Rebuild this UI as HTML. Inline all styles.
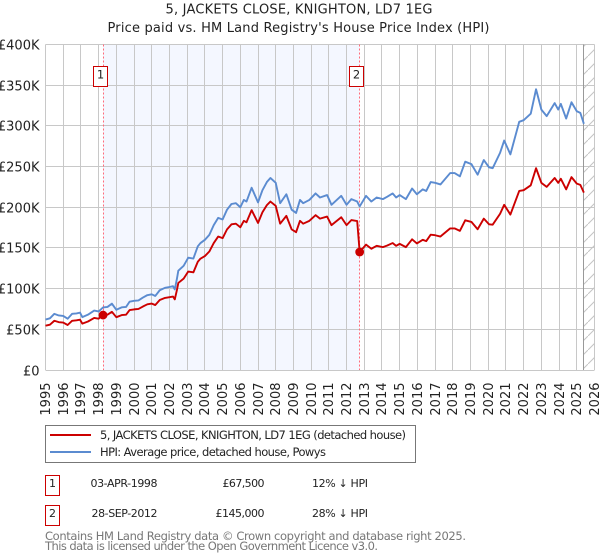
<!DOCTYPE html>
<html lang="en">
<head>
<meta charset="utf-8">
<title>5, JACKETS CLOSE, KNIGHTON, LD7 1EG</title>
<style>
html,body{margin:0;padding:0;background:#fff;width:600px;height:560px;overflow:hidden}
svg{display:block}
text{font-family:"DejaVu Sans","Liberation Sans",sans-serif;fill:#222}
</style>
</head>
<body>
<svg id="chart" width="600" height="560" viewBox="0 0 600 560" xmlns="http://www.w3.org/2000/svg">
<defs>
<pattern id="hatch" patternUnits="userSpaceOnUse" width="14" height="14">
<path d="M0 14L14 0" stroke="#c4c4c4" stroke-width="1" fill="none"/>
</pattern>
</defs>
<rect x="0" y="0" width="600" height="560" fill="#ffffff"/>
<text x="299" y="13.5" font-size="13" text-anchor="middle" textLength="267">5, JACKETS CLOSE, KNIGHTON, LD7 1EG</text>
<text x="298.5" y="32" font-size="13" text-anchor="middle" textLength="382">Price paid vs. HM Land Registry's House Price Index (HPI)</text>
<g id="shade-layer"></g>
<g id="grid-layer"></g>
<g id="hatch-layer"></g>
<g id="vline-layer"></g>
<g id="series-layer"></g>
<g id="marker-layer"></g>
<g id="tick-layer"></g>

<g>
<rect x="45.5" y="425.5" width="370" height="37" fill="#fff" stroke="#777" stroke-width="1"/>
<line x1="50" x2="91" y1="435" y2="435" stroke="#cc0000" stroke-width="2"/>
<text x="100" y="439" font-size="11.5" textLength="306">5, JACKETS CLOSE, KNIGHTON, LD7 1EG (detached house)</text>
<line x1="50" x2="91" y1="452" y2="452" stroke="#5b8bd0" stroke-width="2"/>
<text x="100" y="456" font-size="11.5" textLength="226">HPI: Average price, detached house, Powys</text>
</g>

<g>
<rect x="45.5" y="475.5" width="14" height="20" fill="#fff" stroke="#cc0000" stroke-width="1"/>
<text x="52.5" y="487" font-size="11" text-anchor="middle">1</text>
<text x="157.5" y="487" font-size="11" text-anchor="end" textLength="67">03-APR-1998</text>
<text x="264.5" y="487" font-size="11" text-anchor="end" textLength="42">£67,500</text>
<text x="312" y="487" font-size="11" textLength="56">12% ↓ HPI</text>
<rect x="45.5" y="505.5" width="14" height="20" fill="#fff" stroke="#cc0000" stroke-width="1"/>
<text x="52.5" y="517" font-size="11" text-anchor="middle">2</text>
<text x="157.5" y="517" font-size="11" text-anchor="end" textLength="66">28-SEP-2012</text>
<text x="264.5" y="517" font-size="11" text-anchor="end" textLength="49">£145,000</text>
<text x="312" y="517" font-size="11" textLength="56">28% ↓ HPI</text>
</g>

<text x="45" y="540" font-size="11.5" style="fill:#777" textLength="421">Contains HM Land Registry data © Crown copyright and database right 2025.</text>
<text x="45" y="550" font-size="11.5" style="fill:#777" textLength="333">This data is licensed under the Open Government Licence v3.0.</text>
</svg>
<script>
const yearTicks = [1995,1996,1997,1998,1999,2000,2001,2002,2003,2004,2005,2006,2007,2008,2009,2010,2011,2012,2013,2014,2015,2016,2017,2018,2019,2020,2021,2022,2023,2024,2025,2026];
const valueTicks = [0,50,100,150,200,250,300,350,400];
const valueTickLabels = ["£0","£50K","£100K","£150K","£200K","£250K","£300K","£350K","£400K"];

const dates = [1995,1995.25,1995.5,1995.75,1996,1996.25,1996.5,1996.75,1996.95,1997.08,1997.4,1997.75,1998,1998.25,1998.5,1998.75,1999,1999.3,1999.55,1999.75,2000,2000.25,2000.5,2000.75,2001,2001.2,2001.45,2001.75,2002,2002.2,2002.3,2002.42,2002.5,2002.8,2003.06,2003.35,2003.6,2003.75,2004,2004.25,2004.5,2004.75,2005,2005.25,2005.5,2005.75,2006,2006.2,2006.35,2006.64,2007,2007.25,2007.5,2007.7,2008,2008.25,2008.6,2008.9,2009.15,2009.37,2009.55,2009.9,2010.25,2010.5,2010.9,2011.15,2011.7,2012,2012.27,2012.6,2012.74,2013.1,2013.4,2013.7,2014.05,2014.3,2014.6,2014.8,2015,2015.35,2015.7,2015.97,2016.3,2016.5,2016.75,2017,2017.3,2017.85,2018.1,2018.4,2018.7,2019.05,2019.4,2019.75,2020.05,2020.25,2020.67,2020.9,2021.25,2021.75,2022,2022.4,2022.7,2023,2023.15,2023.3,2023.75,2023.95,2024.1,2024.4,2024.7,2025,2025.2,2025.4];

const hpiValues = [62,63.5,69,67,66.5,63,69,69.5,70.5,65,68,73,72,76.9,77.5,81.5,74,77,77.5,84,85,85.5,89,92,93,91,98,101,102,103,99,112,122,128,138,137,152,156,160,166,178,187,185,197,204,205,200,209,207,224,206,221,231,236,230,205,216,197,193,209,205,209,217,212,215,203,214,203,210,207,201,214,207,212,210,213,217,212,215,210,223,216,222,220,231,230,228,242,242,238,256,253,240,258,249,248,267,282,265,305,307,315,345,320,316,312,328,320,327,309,329,318,316,302.5];

const pricePaidValues = [54.4,55.7,60.5,58.8,58.3,55.3,60.5,61,61.8,57,59.6,64,63.1,67.5,68,71.5,64.9,67.5,68,73.7,74.5,75,78,80.7,81.6,79.8,86,88.6,89.5,90.3,86.8,98.2,107,112.3,121,120,133,136.8,140,145.6,156,164,162,172.8,179,179.8,175.4,183.3,181.5,196.4,180.7,193.8,202.6,207,201.7,179.8,189.4,172.8,169.3,183.3,179.8,183.3,190.3,186,188.6,178,187.7,178,184.2,183,145,154,149,152.6,151,153,156,152.6,155,151,160.6,155.5,160,158.4,166.3,165.6,164,174,174,171,184,182,173,186,179,178.6,192,203,191,220,221,227,248,230,227.5,225,236,230,235,222,237,229,227.5,218];

const saleDates = [1998.25,2012.74];
const saleValues = [67.5,145];
const saleLabels = ["1","2"];
const hpiEndDate = 2025.4;

const NS = "http://www.w3.org/2000/svg";
const LEFT = 45.5, RIGHT = 594.5, TOP = 44.5, BOTTOM = 370;
function xScale(year){return LEFT + (year-1995)*(RIGHT-LEFT)/31;}
function yScale(v){return BOTTOM - v*(BOTTOM-TOP)/400;}
function snap(p){return Math.round(p-0.5)+0.5;}
function make(tag,attrs,parent){
  const el=document.createElementNS(NS,tag);
  for(const k in attrs){el.setAttribute(k,attrs[k]);}
  parent.appendChild(el);
  return el;
}
const shadeLayer=document.getElementById('shade-layer');
const gridLayer=document.getElementById('grid-layer');
const hatchLayer=document.getElementById('hatch-layer');
const vlineLayer=document.getElementById('vline-layer');
const seriesLayer=document.getElementById('series-layer');
const markerLayer=document.getElementById('marker-layer');
const tickLayer=document.getElementById('tick-layer');

const shade=make('rect',{x:xScale(saleDates[0]),y:TOP,width:xScale(saleDates[1])-xScale(saleDates[0]),height:BOTTOM-TOP,fill:'#f4f7ff'},shadeLayer);



yearTicks.forEach(function(y){
  const px=snap(xScale(y));
  const line=make('line',{x1:px,x2:px,y1:TOP,y2:BOTTOM,stroke:'#c8c8c8','stroke-width':1},gridLayer);
  
  
  const label=make('text',{transform:'translate('+(px+4.5)+',382.5) rotate(-90)','font-size':13,'text-anchor':'end'},tickLayer);
  label.textContent=String(y);
  
  
});
valueTicks.forEach(function(v,i){
  const py=snap(yScale(v));
  const line=make('line',{x1:LEFT,x2:RIGHT,y1:py,y2:py,stroke:'#c8c8c8','stroke-width':1},gridLayer);
  
  
  const label=make('text',{x:39.5,y:py+4.8,'font-size':13,'text-anchor':'end'},tickLayer);
  label.textContent=valueTickLabels[i];
  
  
});

const hatchRect=make('rect',{x:snap(xScale(hpiEndDate)),y:TOP,width:RIGHT-snap(xScale(hpiEndDate)),height:BOTTOM-TOP,fill:'url(#hatch)'},hatchLayer);


const hatchEdge=make('line',{x1:snap(xScale(hpiEndDate)),x2:snap(xScale(hpiEndDate)),y1:TOP,y2:BOTTOM,stroke:'#999','stroke-width':1},hatchLayer);



saleDates.forEach(function(d){
  const px=snap(xScale(d));
  const line=make('line',{x1:px,x2:px,y1:TOP,y2:BOTTOM,stroke:'#ff6b7a','stroke-width':1,'stroke-dasharray':'2 2'},vlineLayer);
  
  
});

function pathFrom(values){
  return values.map(function(v,i){return (i?'L':'M')+xScale(dates[i]).toFixed(2)+' '+yScale(v).toFixed(2);}).join('');
}
const hpiLine=make('path',{d:pathFrom(hpiValues),fill:'none',stroke:'#5b8bd0','stroke-width':1.9,'stroke-linejoin':'round'},seriesLayer);


const paidLine=make('path',{d:pathFrom(pricePaidValues),fill:'none',stroke:'#cc0000','stroke-width':1.9,'stroke-linejoin':'round'},seriesLayer);



saleDates.forEach(function(d,i){
  const px=xScale(d);
  const dot=make('circle',{cx:px,cy:yScale(saleValues[i]),r:4.4,fill:'#cc0000'},markerLayer);
  
  
  const box=make('rect',{x:snap(px)-10,y:66.5,width:14,height:20,fill:'#fff',stroke:'#cc0000','stroke-width':1},markerLayer);
  
  
  const t=make('text',{x:snap(px)-3,y:78.5,'font-size':11.5,'text-anchor':'middle'},markerLayer);
  t.textContent=saleLabels[i];
  
  
});
</script>
</body>
</html>
